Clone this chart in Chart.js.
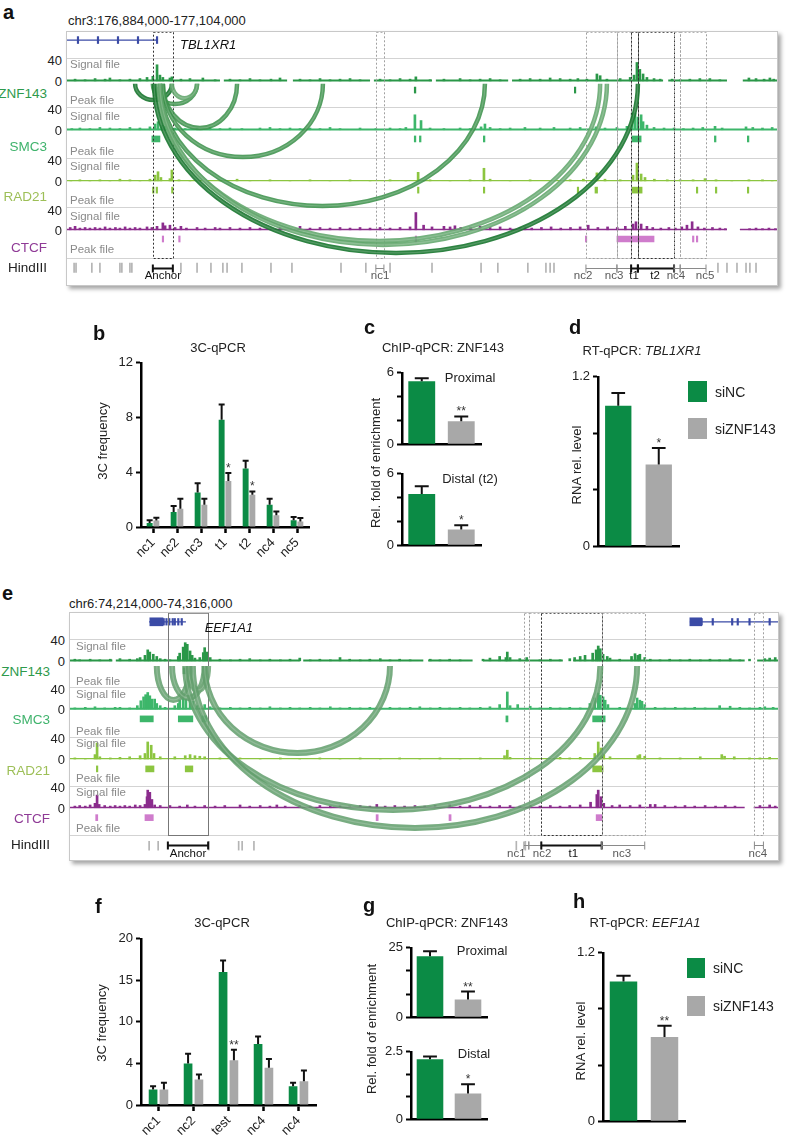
<!DOCTYPE html>
<html>
<head>
<meta charset="utf-8">
<title>ZNF143 loops</title>
<script src="https://cdn.jsdelivr.net/npm/chart.js@4.4.1/dist/chart.umd.min.js"></script>
<style>
  body { margin:0; width:788px; height:1137px; position:relative; background:#fff; overflow:hidden;
         font-family:"Liberation Sans", Arial, Helvetica, sans-serif; }
  canvas { position:absolute; }
  .t { position:absolute; white-space:nowrap; line-height:1; font-size:13px; color:#222; z-index:3; }
  .frame { position:absolute; border:1px solid #c8c8c8; box-shadow:3px 3px 4px rgba(0,0,0,.35); background:#fff; }
  .frame canvas { left:0; top:0; }
  .sw { position:absolute; }
</style>
</head>
<body>
<script>
// ===== panel a: chr3 around TBL1XR1 (positions in kb from region start) =====
const aRegion = 'chr3:176,884,000-177,104,000';
const aSpanKb = 220;
const trackNames = ['ZNF143', 'SMC3', 'RAD21', 'CTCF'];

const aZnfSig = [[2.5,3],[5.6,2],[8.7,4],[11.8,3],[13.3,5],[16.4,2],[19.5,3],[22.6,4],[24.8,6],[26.6,8],[27.9,28],[28.8,10],[29.7,6],[31.9,5],[32.5,7],[35.3,3],[38.1,4],[42.1,5],[45.9,2],[50.5,3],[53.6,2],[56.7,4],[59.8,2],[63.2,3],[66.0,5],[72.2,3],[75.3,2],[78.4,4],[81.5,2],[84.6,3],[87.7,4],[90.8,2],[97.0,3],[100.1,2],[103.2,4],[106.3,3],[108.1,7],[112.5,2],[116.8,3],[121.8,4],[124.9,2],[128.0,3],[131.1,4],[134.2,2],[140.4,3],[143.5,4],[146.6,3],[149.7,5],[152.8,4],[155.9,3],[158.3,4],[161.1,3],[164.2,12],[165.2,9],[167.3,3],[171.4,4],[174.5,6],[175.7,10],[176.6,32],[177.5,20],[178.5,12],[179.7,6],[181.9,4],[183.8,3],[187.5,3],[190.0,2],[193.0,3],[196.1,4],[199.2,4],[202.3,2],[211.3,5],[213.5,4],[216.0,3],[217.8,5],[219.0,3]];
const aZnfCov = [[0,47.4],[48.6,68.2],[70.0,93.9],[95.1,113.1],[114.3,136.7],[137.9,184.7],[186.3,204.5],[209.4,220]];
const aZnfPk = [[28.0,28.5],[107.6,108.1],[157.2,157.6]];

const aSmcSig = [[1.5,2],[4.0,3],[7.1,2],[10.2,4],[13.3,3],[16.4,2],[19.5,4],[22.6,3],[25.7,5],[27.3,10],[28.2,14],[29.4,8],[30.4,6],[33.5,3],[36.6,2],[40.3,3],[44.3,4],[47.4,2],[50.5,3],[54.2,2],[59.8,3],[62.9,4],[66.0,2],[69.1,3],[72.2,2],[75.3,3],[78.4,2],[81.5,4],[84.6,2],[90.8,3],[95.7,2],[100.1,3],[103.2,2],[105.0,4],[107.8,26],[109.7,16],[112.5,3],[116.8,2],[121.8,3],[124.9,2],[128.3,5],[129.5,10],[131.1,4],[134.2,2],[137.3,3],[141.9,4],[146.6,3],[150.9,4],[155.9,3],[159.0,4],[163.9,5],[166.7,3],[170.4,4],[173.5,6],[175.1,29],[176.0,29],[176.9,22],[177.9,26],[178.5,14],[179.7,8],[181.9,4],[185.0,3],[188.1,3],[191.0,2],[194.0,3],[197.0,4],[200.8,6],[203.0,3],[210.4,5],[212.5,4],[215.5,3],[218.5,4]];
const aSmcCov = [[0,220]];
const aSmcPk = [[26.3,28.8],[107.6,108.1],[109.2,109.7],[129.0,129.5],[175.1,177.9],[200.6,201.1],[210.8,211.3]];

const aRadSig = [[1.2,1],[4.0,2],[7.1,1],[10.2,2],[13.3,1],[16.4,3],[19.5,2],[22.6,1],[25.7,3],[27.3,10],[28.2,16],[29.1,6],[31.9,4],[32.5,19],[34.7,2],[38.1,1],[42.8,2],[47.4,1],[52.7,3],[56.7,1],[62.9,2],[69.1,1],[75.3,2],[81.5,1],[87.7,2],[93.9,1],[100.1,2],[105.0,1],[108.8,15],[112.5,2],[118.7,1],[124.9,2],[129.2,22],[131.1,3],[137.3,1],[143.5,2],[149.7,1],[155.9,2],[160.0,3],[164.2,14],[166.7,3],[171.4,2],[175.4,10],[176.6,31],[177.9,12],[179.1,6],[182.0,3],[186.0,2],[190.0,2],[194.0,2],[197.7,4],[201.1,2],[206.0,1],[211.3,2],[215.5,2],[218.5,1]];
const aRadCov = [[0,220]];
const aRadPk = [[26.5,26.9],[27.6,28.0],[32.4,32.8],[108.6,109.0],[129.0,129.4],[158.1,158.5],[163.6,164.4],[175.1,178.2],[195.0,195.4],[200.9,201.3],[210.8,211.2]];

const aCtcSig = [[1.0,4],[2.5,6],[4.0,3],[5.6,4],[7.1,3],[8.7,4],[10.2,3],[11.8,5],[13.3,3],[15.0,4],[16.4,3],[18.0,5],[19.5,3],[21.1,4],[22.6,3],[24.8,5],[26.3,4],[27.9,6],[29.7,12],[30.4,7],[31.9,8],[33.5,4],[35.3,6],[37.0,3],[40.3,4],[42.8,3],[45.9,4],[47.4,3],[50.5,4],[53.6,3],[56.7,4],[59.8,3],[63.2,3],[66.0,4],[69.1,3],[72.2,6],[75.3,3],[78.4,4],[81.5,3],[84.6,4],[87.7,3],[90.8,4],[93.9,3],[97.0,4],[100.1,3],[103.2,4],[106.3,5],[108.1,30],[110.5,8],[113.1,5],[116.8,6],[118.7,5],[120.2,7],[122.0,4],[125.0,5],[128.0,6],[131.1,4],[134.2,5],[137.3,3],[140.4,4],[141.9,5],[144.0,3],[147.0,4],[150.0,5],[153.0,3],[156.0,4],[159.0,5],[161.5,8],[164.5,4],[167.5,5],[170.5,4],[173.0,6],[175.4,10],[176.3,14],[177.9,10],[179.7,6],[181.5,4],[184.0,3],[186.5,4],[188.5,3],[190.5,5],[192.1,8],[193.7,14],[195.5,5],[197.5,3],[200.0,4],[202.3,3],[204.0,2],[211.5,2],[213.5,3],[215.5,2],[217.5,3],[219.5,2]];
const aCtcCov = [[0,204.5],[208.5,220]];
const aCtcPk = [[29.5,29.9],[34.6,35.0],[107.9,108.3],[160.6,161.0],[170.4,181.9],[193.8,194.2],[195.0,195.4]];

const aHind = [2.2,2.8,7.7,10.2,16.4,17.0,19.5,20.1,35.3,40.3,44.6,48.3,49.6,54.2,63.2,69.7,84.9,92.6,100.1,113.1,128.3,133.5,142.8,148.4,149.7,150.9,201.7,204.5,207.6,210.4,211.6,213.5];
// [name, start, end, kind, label position]
const aFrags = [['Anchor',26.6,32.8,'anchor',29.7],['nc1',95.7,98.2,'ctrl',97.0],['nc2',160.8,170.4,'ctrl',159.9],['nc3',170.4,174.8,'ctrl',169.5],['t1',174.8,176.9,'test',175.7],['t2',176.9,188.1,'test',182.2],['nc4',188.1,190.0,'ctrl',188.7],['nc5',190.0,198.0,'ctrl',197.7]];
// [from kb, to kb, lowest point in track units]
const aLoops = [[21.1,32.5,321.7],[26.6,40.3,314.8],[32.5,40.3,325],[29.7,52.7,273],[29.7,79.3,222.6],[28.8,129.5,137.4],[28.2,165.2,76.5],[28.8,167.3,69.6],[27.0,176.9,55.7]];
const aGeneName = 'TBL1XR1';
const aGeneLine = [[0,27.9]];
const aGeneBlocks = [];
const aGeneTicks = [3.4,9.6,15.8,22.0,27.9];

// ===== panel e: chr6 around EEF1A1 =====
const eRegion = 'chr6:74,214,000-74,316,000';
const eSpanKb = 102;

const eZnfSig = [[0.7,3],[1.4,2],[2.9,3],[4.3,2],[5.8,3],[7.2,4],[8.6,3],[9.7,4],[10.1,6],[10.8,10],[11.2,20],[11.5,16],[12.0,12],[12.5,8],[13.0,4],[13.7,3],[14.4,2],[15.6,8],[15.8,14],[16.3,25],[16.6,33],[16.9,30],[17.3,18],[17.6,10],[18.0,5],[18.7,6],[19.2,15],[19.4,24],[19.7,16],[20.2,6],[21.6,3],[23.1,2],[24.5,3],[25.9,4],[27.4,2],[28.8,3],[30.3,2],[31.7,3],[33.1,5],[34.6,2],[36.0,3],[37.5,2],[38.9,6],[40.3,3],[41.8,2],[43.2,3],[44.7,4],[46.1,2],[47.5,3],[49.0,2],[51.9,3],[53.3,2],[54.7,3],[56.2,2],[59.5,3],[60.5,5],[61.9,8],[62.8,6],[63.0,16],[63.4,6],[64.8,4],[65.8,6],[67.7,2],[69.2,3],[70.6,2],[72.0,4],[72.7,6],[73.5,8],[74.2,10],[75.3,14],[75.8,20],[76.1,27],[76.4,22],[76.8,12],[77.4,8],[77.8,5],[79.2,3],[80.9,8],[81.4,13],[81.8,10],[82.1,12],[82.8,6],[83.6,3],[85.0,2],[86.4,3],[87.9,2],[89.3,3],[90.8,2],[92.2,3],[93.6,2],[95.1,4],[96.5,2],[97.9,3],[100.1,4],[100.8,5],[101.6,6]];
const eZnfCov = [[0,6.1],[6.6,33.1],[33.6,50.9],[51.6,58.0],[59.5,71.0],[72.5,97.2],[99.0,102]];
const eZnfPk = [[16.3,17.3]];

const eSmcSig = [[0.7,2],[2.2,3],[3.6,4],[5.0,2],[6.5,3],[7.2,3],[8.6,2],[9.7,6],[10.2,15],[10.6,22],[10.9,26],[11.2,30],[11.5,24],[11.8,18],[12.2,18],[12.5,10],[13.0,6],[13.7,3],[15.1,6],[15.6,10],[15.8,16],[16.3,20],[16.7,18],[17.3,22],[17.7,14],[18.3,6],[19.4,8],[20.2,4],[21.6,2],[23.1,3],[24.5,2],[25.9,3],[27.4,2],[28.8,4],[30.3,2],[31.7,3],[33.1,2],[34.6,3],[36.0,2],[37.5,4],[38.9,2],[40.3,3],[41.8,2],[43.2,3],[44.7,2],[46.1,3],[47.5,2],[49.0,3],[50.4,4],[51.9,2],[53.3,3],[54.7,2],[56.2,3],[57.6,2],[59.1,3],[60.5,4],[61.9,8],[63.0,31],[63.4,6],[64.5,8],[66.3,5],[67.7,2],[69.2,3],[70.6,2],[72.0,3],[73.5,2],[74.9,10],[75.6,20],[76.1,29],[76.4,25],[76.8,22],[77.1,16],[77.5,8],[79.2,3],[81.4,10],[81.7,20],[82.1,16],[82.4,14],[82.8,8],[84.3,3],[85.7,2],[87.2,3],[88.6,2],[90.0,3],[91.5,2],[93.6,6],[95.1,5],[96.5,3],[97.9,2],[99.4,3],[100.1,4],[101.3,3]];
const eSmcCov = [[0,102]];
const eSmcPk = [[10.1,12.0],[15.6,17.7],[19.0,19.7],[62.8,63.1],[75.3,77.1]];

const eRadSig = [[0.7,2],[2.2,1],[3.6,8],[3.9,29],[4.3,4],[5.8,2],[7.2,3],[8.6,4],[10.1,6],[10.8,10],[11.2,31],[11.7,25],[12.1,10],[13.0,4],[15.1,4],[16.6,6],[17.3,8],[18.0,6],[18.7,5],[19.4,4],[21.6,2],[24.5,2],[27.4,1],[30.3,2],[33.1,1],[36.0,2],[38.9,1],[41.8,2],[44.7,1],[47.5,2],[50.4,1],[53.3,2],[56.2,1],[59.1,2],[62.6,6],[63.0,16],[63.4,3],[66.3,2],[69.2,1],[70.6,3],[72.0,2],[73.5,3],[75.6,10],[76.1,31],[76.5,20],[76.9,8],[77.8,4],[81.8,6],[82.1,8],[82.8,5],[85.0,2],[87.9,2],[90.8,4],[93.9,8],[94.3,5],[95.7,4],[97.9,2],[99.4,2],[100.8,3]];
const eRadCov = [[0,102]];
const eRadPk = [[3.8,4.0],[10.9,12.1],[16.6,17.7],[75.3,76.8]];

const eCtcSig = [[0.7,3],[1.4,4],[2.2,3],[2.9,5],[3.6,8],[3.9,23],[4.2,6],[5.0,4],[5.8,3],[6.5,4],[7.2,3],[7.9,4],[8.6,3],[9.4,5],[10.1,4],[10.8,6],[11.1,20],[11.2,32],[11.5,28],[11.8,15],[12.2,5],[13.0,4],[14.4,4],[15.8,3],[16.9,5],[18.0,3],[19.4,4],[20.9,3],[22.3,4],[24.5,5],[25.9,3],[27.4,4],[28.8,3],[29.8,5],[31.0,3],[33.1,4],[34.6,3],[36.0,4],[37.5,3],[38.9,4],[40.3,3],[41.8,4],[43.2,3],[44.2,6],[45.4,3],[46.8,4],[48.2,3],[49.7,4],[51.1,3],[52.6,4],[54.7,6],[56.2,3],[57.6,4],[59.1,4],[60.5,3],[61.9,4],[63.4,4],[64.8,3],[66.3,4],[67.7,3],[69.2,4],[70.6,3],[72.0,4],[73.5,5],[75.0,10],[75.9,24],[76.1,32],[76.5,20],[76.9,8],[78.1,4],[79.2,5],[80.7,4],[82.1,5],[83.6,6],[84.3,6],[85.7,4],[87.2,3],[88.6,4],[90.0,3],[91.5,4],[93.0,3],[94.4,4],[95.8,3],[99.4,4],[100.8,5],[101.6,3]];
const eCtcCov = [[0,97.2],[98.5,102]];
const eCtcPk = [[3.7,4.0],[10.8,12.0],[44.1,44.4],[54.6,54.9],[75.8,76.6]];

const eHind = [11.4,12.7,20.0,24.3,24.8,26.5,64.3,65.6];
const eFrags = [['Anchor',14.1,19.9,'anchor',17.0],['nc1',65.4,66.1,'ctrl',64.3],['nc2',66.1,67.9,'ctrl',68.0],['t1',67.9,76.6,'test',72.5],['nc3',76.6,82.8,'ctrl',79.5],['nc4',98.6,99.9,'ctrl',99.1]];
const eLoops = [[12.5,17.3,290.9],[14.7,19.4,294.5],[17.0,19.9,309],[19.4,46.1,194.5],[16.6,76.4,90.9],[17.7,81.7,58.2]];
const eGeneName = 'EEF1A1';
const eGeneLine = [[11.4,16.7],[89.3,102]];
const eGeneBlocks = [[11.5,13.4],[89.3,91.0]];
const eGeneTicks = [13.5,13.9,14.3,14.8,15.1,15.6,16.1,91.0,92.6,95.4,96.2,97.9,100.8];

// ===== bar panels (siNC green, siZNF143 grey) =====
const bCats = ['nc1', 'nc2', 'nc3', 't1', 't2', 'nc4', 'nc5'];
const bSiNC = [0.29, 1.09, 2.52, 7.83, 4.27, 1.63, 0.49];
const bSiNCErr = [0.21, 0.44, 0.68, 1.12, 0.58, 0.43, 0.24];
const bSiZNF = [0.47, 1.33, 1.63, 3.37, 2.35, 0.85, 0.41];
const bSiZNFErr = [0.2, 0.73, 0.43, 0.58, 0.25, 0.29, 0.24];
const bStars = ['', '', '', '*', '*', '', ''];
const bTicks = ['0', '4', '8', '12'];

const pairCats = ['siNC', 'siZNF143'];
const cProx = [5.3, 1.93], cProxErr = [0.25, 0.4], cProxStars = ['', '**'];
const cDist = [4.3, 1.32], cDistErr = [0.65, 0.36], cDistStars = ['', '*'];
const cTicks = ['0', '6'];
const dRna = [0.995, 0.578], dRnaErr = [0.09, 0.118], dStars = ['', '*'];
const dTicks = ['0', '1.2'];

const fCats = ['nc1', 'nc2', 'test', 'nc4', 'nc4'];
const fSiNC = [1.88, 4.98, 16.0, 7.33, 2.27];
const fSiNCErr = [0.39, 1.2, 1.4, 0.92, 0.4];
const fSiZNF = [1.88, 3.07, 5.38, 4.47, 2.87];
const fSiZNFErr = [0.79, 0.6, 1.27, 1.08, 1.27];
const fStars = ['', '', '**', '', ''];
const fTicks = ['0', '4', '10', '15', '20'];

const gProx = [22.0, 6.4], gProxErr = [1.8, 2.85], gProxStars = ['', '**'];
const gDist = [2.22, 0.95], gDistErr = [0.11, 0.35], gDistStars = ['', '*'];
const gProxTicks = ['0', '25'], gDistTicks = ['0', '2.5'];
const hRna = [0.996, 0.6], hRnaErr = [0.041, 0.08], hStars = ['', '**'];
const hTicks = ['0', '1.2'];

// ===== styling =====
const GREEN = '#0b8b45', GREY = '#a8a8a8', GENE = '#3b4ba6';
const trackColors = ['#2a9748', '#3db66a', '#8cc540', '#8b2c8d'];
const peakColors = ['#2a9748', '#3db66a', '#8cc540', '#cf7ccc'];
const labelColors = ['#2e9a4c', '#3fb36c', '#9dbf57', '#8f3a96'];
const baseWidths = [2, 2, 1.2, 1.6];

Chart.defaults.font.family = '"Liberation Sans", Arial, Helvetica, sans-serif';
Chart.defaults.color = '#222';
Chart.defaults.animation = false;

function put(html, x, y, o = {}) {
  const d = document.createElement('div');
  d.className = 't';
  d.innerHTML = html;
  const ax = o.a === 'r' ? '-100%' : o.a === 'c' ? '-50%' : '0';
  d.style.left = x + 'px';
  d.style.top = y + 'px';
  d.style.transform = 'translate(' + ax + ',-50%)' + (o.rot ? ' rotate(-90deg)' : '');
  if (o.size) d.style.fontSize = o.size + 'px';
  if (o.color) d.style.color = o.color;
  if (o.bold) d.style.fontWeight = 'bold';
  document.body.appendChild(d);
}

function genomePanel(P) {
  const fr = document.createElement('div');
  fr.className = 'frame';
  fr.style.cssText = `left:${P.left - 1}px;top:${P.top - 1}px;width:${P.w}px;height:${P.h}px`;
  const cv = document.createElement('canvas');
  cv.width = P.w; cv.height = P.h;
  fr.appendChild(cv);
  document.body.appendChild(fr);

  const ds = [];
  // gene model
  ds.push({ type: 'line', data: P.geneLine.flatMap(([s, e]) => [{ x: s, y: P.geneU }, { x: e, y: P.geneU }, { x: e, y: null }]),
            borderColor: GENE, borderWidth: 1.2, pointRadius: 0, spanGaps: false });
  ds.push({ type: 'bar', indexAxis: 'y', grouped: false, data: P.geneBlocks.map(([s, e]) => ({ y: P.geneU, x: [s, e] })),
            backgroundColor: GENE, barThickness: 8 });
  ds.push({ type: 'bar', grouped: false, data: P.geneTicks.map(k => ({ x: k, y: [P.geneU - 6, P.geneU + 6] })),
            backgroundColor: GENE, barThickness: 1.5 });
  // four ChIP tracks
  P.tracks.forEach((t, i) => {
    const b = P.base[i];
    ds.push({ type: 'line', data: t.cov.flatMap(([s, e]) => [{ x: s, y: b + 0.5 }, { x: e, y: b + 0.5 }, { x: e, y: null }]),
              borderColor: trackColors[i], borderWidth: baseWidths[i], pointRadius: 0, spanGaps: false });
    ds.push({ type: 'bar', grouped: false, data: t.sig.map(([x, h]) => ({ x: x, y: [b, b + h] })),
              backgroundColor: trackColors[i], barThickness: 2 });
    ds.push({ type: 'bar', indexAxis: 'y', grouped: false, minBarLength: 1.5,
              data: t.pk.map(([s, e]) => ({ y: b + P.peakOff, x: [s, e] })),
              backgroundColor: peakColors[i], barThickness: 6 });
  });
  // HindIII sites
  ds.push({ type: 'bar', grouped: false, data: P.hind.map(k => ({ x: k, y: [P.hindLo, P.hindHi] })),
            backgroundColor: '#b4b4b4', barThickness: 1 });

  const deco = {
    id: 'deco',
    beforeDatasetsDraw(ch) {
      const { ctx, chartArea: ar, scales: { y } } = ch;
      ctx.save();
      ctx.strokeStyle = '#d3d3d3';
      ctx.lineWidth = 1;
      P.gridU.forEach(u => {
        const py = Math.round(y.getPixelForValue(u)) + 0.5;
        ctx.beginPath(); ctx.moveTo(ar.left, py); ctx.lineTo(ar.right, py); ctx.stroke();
      });
      ctx.restore();
    },
    afterDatasetsDraw(ch) {
      const { ctx, scales: { x, y } } = ch;
      ctx.save();
      // boxes round the anchor and the tested fragments
      const yb0 = y.getPixelForValue(P.boxTopU), yb1 = Math.round(y.getPixelForValue(P.boxBotU)) + 0.5;
      P.frags.forEach(f => {
        const st = P.boxStyle[f[3]];
        const x0 = Math.round(x.getPixelForValue(f[1])) + 0.5, x1 = Math.round(x.getPixelForValue(f[2])) + 0.5;
        ctx.strokeStyle = st.c; ctx.setLineDash(st.dash); ctx.lineWidth = 1;
        ctx.strokeRect(x0, yb0, x1 - x0, yb1 - yb0);
      });
      ctx.setLineDash([]);
      // 3C loops from the anchor
      const yt = y.getPixelForValue(P.arcTopU);
      P.loops.forEach((l, i) => {
        const x0 = x.getPixelForValue(l[0]), x1 = x.getPixelForValue(l[1]);
        const yb = y.getPixelForValue(l[2]);
        ctx.strokeStyle = P.loopColors[P.loopShade[i]];
        ctx.lineWidth = P.loopW;
        ctx.beginPath(); ctx.ellipse((x0 + x1) / 2, yt, (x1 - x0) / 2, yb - yt, 0, 0, Math.PI); ctx.stroke();
        ctx.strokeStyle = 'rgba(255,255,255,0.18)';
        ctx.lineWidth = 1.2;
        ctx.beginPath(); ctx.ellipse((x0 + x1) / 2, yt, (x1 - x0) / 2, yb - yt, 0, 0, Math.PI); ctx.stroke();
      });
      // HindIII fragments with names
      const fy = Math.round(y.getPixelForValue(P.fragU)) + 0.5, ly = y.getPixelForValue(P.fragLabelU);
      ctx.font = '11.5px "Liberation Sans", Arial, sans-serif';
      ctx.textAlign = 'center'; ctx.textBaseline = 'middle';
      P.frags.forEach(f => {
        const dark = f[3] !== 'ctrl';
        const x0 = x.getPixelForValue(f[1]), x1 = x.getPixelForValue(f[2]);
        ctx.strokeStyle = dark ? '#111' : '#8a8a8a';
        ctx.lineWidth = dark ? 2 : 1;
        ctx.beginPath();
        ctx.moveTo(x0, fy); ctx.lineTo(x1, fy);
        ctx.moveTo(x0, fy - 4); ctx.lineTo(x0, fy + 4);
        ctx.moveTo(x1, fy - 4); ctx.lineTo(x1, fy + 4);
        ctx.stroke();
        ctx.fillStyle = dark ? '#111' : '#5a5a5a';
        ctx.fillText(f[0], x.getPixelForValue(f[4]), ly);
      });
      // gene name
      ctx.font = 'italic 13px "Liberation Sans", Arial, sans-serif';
      ctx.textAlign = 'left'; ctx.fillStyle = '#111';
      ctx.fillText(P.geneName, x.getPixelForValue(P.geneLabel[0]), y.getPixelForValue(P.geneLabel[1]));
      ctx.restore();
    }
  };

  new Chart(cv, {
    type: 'bar',
    data: { datasets: ds },
    options: {
      responsive: false, devicePixelRatio: 1, events: [],
      layout: { padding: 0 },
      plugins: { legend: { display: false }, tooltip: { enabled: false } },
      scales: {
        x: { type: 'linear', min: 0, max: P.span, offset: false, display: false },
        y: { type: 'linear', min: 0, max: P.maxU, offset: false, display: false }
      }
    },
    plugins: [deco]
  });

  // labels left of the browser frame
  const R = P.rows;
  trackNames.forEach((n, i) => {
    put(n, R.nameX, R.name[i], { a: 'r', size: 13.5, color: labelColors[i] });
    put('40', R.numX, R.top40[i], { a: 'r', size: 13 });
    put('0', R.numX, R.zero[i], { a: 'r', size: 13 });
    put('Signal file', R.fileX, R.sig[i], { size: 11.5, color: '#8a8a8a' });
    put('Peak file', R.fileX, R.peak[i], { size: 11.5, color: '#8a8a8a' });
  });
  put('HindIII', R.nameX, R.hind, { a: 'r', size: 13.5, color: '#222' });
}

// error bars and significance marks on top of bars
const errBars = {
  id: 'errBars',
  afterDatasetsDraw(chart) {
    const ctx = chart.ctx, ys = chart.scales.y;
    chart.data.datasets.forEach((ds, i) => {
      chart.getDatasetMeta(i).data.forEach((bar, j) => {
        const yT = ys.getPixelForValue(ds.data[j] + ds.err[j]);
        const cw = Math.max(3, bar.width * 0.26);
        ctx.save();
        ctx.strokeStyle = '#111';
        ctx.lineWidth = 2;
        ctx.beginPath();
        ctx.moveTo(bar.x, bar.y); ctx.lineTo(bar.x, yT);
        ctx.moveTo(bar.x - cw, yT); ctx.lineTo(bar.x + cw, yT);
        ctx.stroke();
        if (ds.stars[j]) {
          ctx.fillStyle = '#333';
          ctx.font = '12px "Liberation Sans", Arial, sans-serif';
          ctx.textAlign = 'center'; ctx.textBaseline = 'alphabetic';
          ctx.fillText(ds.stars[j], bar.x, yT - 1);
        }
        ctx.restore();
      });
    });
  }
};

function barPanel(area, cats, sets, yAxis, rotated) {
  const yw = 44, pad = 10, xh = rotated ? 46 : 3;
  const left = Math.round(area.x0) - yw, top = Math.round(area.yTop) - pad;
  const w = Math.round(area.x1 - area.x0) + yw + pad, h = Math.round(area.yBot - area.yTop) + pad + xh;
  const cv = document.createElement('canvas');
  cv.width = w; cv.height = h;
  cv.style.left = left + 'px'; cv.style.top = top + 'px';
  document.body.appendChild(cv);
  new Chart(cv, {
    type: 'bar',
    data: {
      labels: cats,
      datasets: sets.map(s => ({
        data: s.data, err: s.err, stars: s.stars,
        backgroundColor: s.color, borderWidth: 0,
        categoryPercentage: area.cat, barPercentage: area.bar
      }))
    },
    options: {
      responsive: false, devicePixelRatio: 1, events: [],
      layout: { padding: { top: pad, right: pad, left: 0, bottom: 0 } },
      plugins: { legend: { display: false }, tooltip: { enabled: false } },
      scales: {
        x: {
          afterFit: s => { s.height = xh; },
          border: { color: '#000', width: 2.5 },
          grid: { offset: false, drawOnChartArea: false, drawTicks: rotated, tickLength: 6, tickWidth: 2.5, tickColor: '#000' },
          ticks: { display: rotated, autoSkip: false, minRotation: 45, maxRotation: 45, font: { size: 13 }, color: '#222', padding: 2 }
        },
        y: {
          min: 0, max: yAxis.max,
          afterFit: s => { s.width = yw; },
          border: { color: '#000', width: 2.5 },
          grid: { drawOnChartArea: false, tickLength: 5, tickWidth: 2, tickColor: '#000' },
          ticks: {
            count: yAxis.count, font: { size: 13 }, color: '#222', padding: 3,
            callback: (v, i, t) => yAxis.labels.length === t.length ? yAxis.labels[i]
              : (i === 0 ? yAxis.labels[0] : i === t.length - 1 ? yAxis.labels[1] : '')
          }
        }
      }
    },
    plugins: [errBars]
  });
}

// ---------- panel a ----------
put('a', 3, 12, { size: 20, bold: true, color: '#111' });
put(aRegion, 68, 20, { size: 13 });
genomePanel({
  left: 67, top: 32, w: 710, h: 253, span: aSpanKb, maxU: 440,
  base: [355, 270, 181, 96], peakOff: -16, gridU: [395, 310, 221, 136, 47],
  tracks: [
    { sig: aZnfSig, cov: aZnfCov, pk: aZnfPk },
    { sig: aSmcSig, cov: aSmcCov, pk: aSmcPk },
    { sig: aRadSig, cov: aRadCov, pk: aRadPk },
    { sig: aCtcSig, cov: aCtcCov, pk: aCtcPk }
  ],
  geneU: 426, geneLine: aGeneLine, geneBlocks: aGeneBlocks, geneTicks: aGeneTicks,
  geneName: aGeneName, geneLabel: [35.0, 417],
  hind: aHind, hindLo: 22, hindHi: 38, fragU: 29.5, fragLabelU: 15.5,
  frags: aFrags, boxTopU: 439.5, boxBotU: 47,
  boxStyle: { anchor: { c: '#333', dash: [2, 2] }, test: { c: '#333', dash: [2, 2] }, ctrl: { c: '#a0a0a0', dash: [2, 2] } },
  loops: aLoops, arcTopU: 350, loopW: 4.5,
  loopColors: ['rgba(28,120,50,0.92)', 'rgba(62,146,76,0.88)', 'rgba(98,166,108,0.88)'],
  loopShade: [0, 1, 2, 1, 1, 1, 2, 2, 0],
  rows: { nameX: 47, numX: 62, fileX: 70, name: [94, 147, 197, 248], top40: [60, 109, 160, 210],
          zero: [81, 130, 181, 230], sig: [65, 117, 167, 217], peak: [101, 152, 201, 250], hind: 268 }
});

// ---------- panel b ----------
put('b', 93, 333, { size: 20, bold: true, color: '#111' });
put('3C-qPCR', 218, 347, { a: 'c' });
put('3C frequency', 102, 441, { a: 'c', rot: true });
barPanel({ x0: 141, x1: 309, yTop: 361.7, yBot: 526.7, cat: 0.56, bar: 0.88 }, bCats, [
  { data: bSiNC, err: bSiNCErr, stars: bCats.map(() => ''), color: GREEN },
  { data: bSiZNF, err: bSiZNFErr, stars: bStars, color: GREY }
], { max: 12, count: 4, labels: bTicks }, true);

// ---------- panel c ----------
put('c', 364, 327, { size: 20, bold: true, color: '#111' });
put('ChIP-qPCR: ZNF143', 443, 347, { a: 'c' });
put('Rel. fold of enrichment', 375, 463, { a: 'c', rot: true });
put('Proximal', 470, 377, { a: 'c' });
put('Distal (t2)', 470, 478, { a: 'c' });
barPanel({ x0: 402, x1: 481, yTop: 371.7, yBot: 451.7, cat: 1, bar: 0.68 }, pairCats,
  [{ data: cProx, err: cProxErr, stars: cProxStars, color: [GREEN, GREY] }], { max: 6, count: 4, labels: cTicks }, false);
barPanel({ x0: 402, x1: 481, yTop: 473.3, yBot: 553.3, cat: 1, bar: 0.68 }, pairCats,
  [{ data: cDist, err: cDistErr, stars: cDistStars, color: [GREEN, GREY] }], { max: 6, count: 4, labels: cTicks }, false);

// ---------- panel d ----------
put('d', 569, 327, { size: 20, bold: true, color: '#111' });
put('RT-qPCR: <i>TBL1XR1</i>', 642, 350, { a: 'c' });
put('RNA rel. level', 576, 465, { a: 'c', rot: true });
barPanel({ x0: 598, x1: 679, yTop: 375.7, yBot: 553.3, cat: 1, bar: 0.65 }, pairCats,
  [{ data: dRna, err: dRnaErr, stars: dStars, color: [GREEN, GREY] }], { max: 1.2, count: 4, labels: dTicks }, false);

function legend(x, y1, y2, w, h) {
  [[y1, GREEN, 'siNC'], [y2, GREY, 'siZNF143']].forEach(([y, c, name]) => {
    const s = document.createElement('div');
    s.className = 'sw';
    s.style.cssText = `left:${x}px;top:${y}px;width:${w}px;height:${h}px;background:${c}`;
    document.body.appendChild(s);
    put(name, x + w + 8, y + h / 2, { size: 14 });
  });
}
legend(688, 381, 418, 19, 21);

// ---------- panel e ----------
put('e', 2, 593, { size: 20, bold: true, color: '#111' });
put(eRegion, 69, 603, { size: 13 });
genomePanel({
  left: 70, top: 613, w: 708, h: 247, span: eSpanKb, maxU: 449,
  base: [362, 274.5, 183.6, 95], peakOff: -18, gridU: [402, 314.5, 223.6, 135, 46],
  tracks: [
    { sig: eZnfSig, cov: eZnfCov, pk: eZnfPk },
    { sig: eSmcSig, cov: eSmcCov, pk: eSmcPk },
    { sig: eRadSig, cov: eRadCov, pk: eRadPk },
    { sig: eCtcSig, cov: eCtcCov, pk: eCtcPk }
  ],
  geneU: 433, geneLine: eGeneLine, geneBlocks: eGeneBlocks, geneTicks: eGeneTicks,
  geneName: eGeneName, geneLabel: [19.4, 421.8],
  hind: eHind, hindLo: 18, hindHi: 34, fragU: 27, fragLabelU: 11,
  frags: eFrags, boxTopU: 448.5, boxBotU: 46,
  boxStyle: { anchor: { c: '#777', dash: [] }, test: { c: '#333', dash: [2, 2] }, ctrl: { c: '#a0a0a0', dash: [2, 2] } },
  loops: eLoops, arcTopU: 352.7, loopW: 6,
  loopColors: ['rgba(98,158,108,0.86)', 'rgba(112,167,120,0.86)'],
  loopShade: [0, 0, 1, 0, 0, 0],
  rows: { nameX: 50, numX: 65, fileX: 76, name: [672, 720, 771, 819], top40: [640, 689, 738, 787],
          zero: [661, 709, 759, 808], sig: [647, 695, 744, 793], peak: [682, 732, 779, 829], hind: 845 }
});

// ---------- panel f ----------
put('f', 95, 906, { size: 20, bold: true, color: '#111' });
put('3C-qPCR', 222, 922, { a: 'c' });
put('3C frequency', 101, 1023, { a: 'c', rot: true });
barPanel({ x0: 141, x1: 315.5, yTop: 938.3, yBot: 1105.7, cat: 0.62, bar: 0.8 }, fCats, [
  { data: fSiNC, err: fSiNCErr, stars: fCats.map(() => ''), color: GREEN },
  { data: fSiZNF, err: fSiZNFErr, stars: fStars, color: GREY }
], { max: 20, count: 5, labels: fTicks }, true);

// ---------- panel g ----------
put('g', 363, 905, { size: 20, bold: true, color: '#111' });
put('ChIP-qPCR: ZNF143', 447, 922, { a: 'c' });
put('Rel. fold of enrichment', 371, 1029, { a: 'c', rot: true });
put('Proximal', 482, 950, { a: 'c' });
put('Distal', 474, 1053, { a: 'c' });
barPanel({ x0: 410.7, x1: 487, yTop: 947.3, yBot: 1025.7, cat: 1, bar: 0.7 }, pairCats,
  [{ data: gProx, err: gProxErr, stars: gProxStars, color: [GREEN, GREY] }], { max: 25, count: 4, labels: gProxTicks }, false);
barPanel({ x0: 410.7, x1: 487, yTop: 1050.7, yBot: 1126.7, cat: 1, bar: 0.7 }, pairCats,
  [{ data: gDist, err: gDistErr, stars: gDistStars, color: [GREEN, GREY] }], { max: 2.5, count: 4, labels: gDistTicks }, false);

// ---------- panel h ----------
put('h', 573, 901, { size: 20, bold: true, color: '#111' });
put('RT-qPCR: <i>EEF1A1</i>', 645, 922, { a: 'c' });
put('RNA rel. level', 580, 1041, { a: 'c', rot: true });
barPanel({ x0: 602.7, x1: 685, yTop: 951.7, yBot: 1128.3, cat: 1, bar: 0.67 }, pairCats,
  [{ data: hRna, err: hRnaErr, stars: hStars, color: [GREEN, GREY] }], { max: 1.2, count: 4, labels: hTicks }, false);
legend(687, 958, 996, 18, 20);
</script>
</body>
</html>
